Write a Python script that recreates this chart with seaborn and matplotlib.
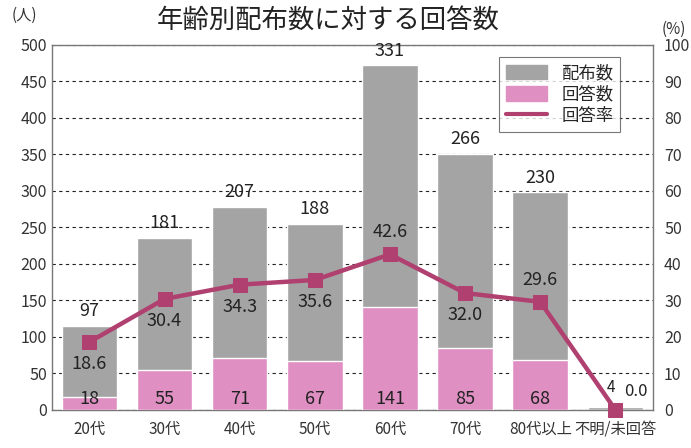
import numpy as np
import matplotlib
matplotlib.use("Agg")
import matplotlib.pyplot as plt
import seaborn as sns
from matplotlib.patches import Patch
from matplotlib.lines import Line2D

categories = ["20代", "30代", "40代", "50代", "60代", "70代", "80代以上", "不明/未回答"]
distributed = [97, 181, 207, 188, 331, 266, 230, 4]
responses = [18, 55, 71, 67, 141, 85, 68, 0]
rate = [18.6, 30.4, 34.3, 35.6, 42.6, 32.0, 29.6, 0.0]
# which side of the marker the rate label goes (1 = above, -1 = below, 0 = right)
rate_side = [-1, -1, -1, -1, 1, -1, 1, 0]

gray = "#a4a4a4"
pink = "#df8fc2"
line_c = "#b0406f"

sns.set_style("white")
plt.rcParams["font.family"] = ["Noto Sans CJK JP", "DejaVu Sans"]

fig = plt.figure(figsize=(6.91, 4.48), dpi=100)
ax = fig.add_axes([0.075, 0.085, 0.87, 0.815])

# gray bar stacked on top of the responses (as in the original chart)
totals = [d + r for d, r in zip(distributed, responses)]
sns.barplot(x=categories, y=totals, color=gray, width=0.74, saturation=1, ax=ax, zorder=2)
sns.barplot(x=categories, y=responses, color=pink, width=0.74, saturation=1, ax=ax, zorder=3)

ax.set_ylim(0, 500)
ax.set_xlim(-0.5, len(categories) - 0.5)
ax.set_yticks(np.arange(0, 501, 50))
ax.yaxis.grid(True, linestyle=(0, (3, 3)), color="#222222", linewidth=0.8, zorder=0)
ax.set_axisbelow(True)
ax.set_xlabel("")
ax.set_ylabel("")
ax.tick_params(axis="both", labelsize=11.5, colors="#333333", length=0)
ax.set_xticks(np.arange(len(categories)))
ax.set_xticklabels(categories, fontsize=11)
ax.tick_params(axis="x", pad=8)
ax.set_xticks(np.arange(0.5, len(categories) - 0.5), minor=True)
ax.tick_params(axis="x", which="minor", direction="in", length=5, color="#555555")
for s in ax.spines.values():
    s.set_color("#777777")
    s.set_linewidth(1)

ax2 = ax.twinx()
sns.lineplot(x=np.arange(len(categories)), y=rate, color=line_c, linewidth=3.2,
             marker="s", markersize=10, markeredgecolor=line_c, ax=ax2, zorder=6, clip_on=False)
ax2.set_ylim(0, 100)
ax2.set_xlim(-0.5, len(categories) - 0.5)
ax2.set_yticks(np.arange(0, 101, 10))
ax2.tick_params(axis="y", labelsize=11.5, colors="#333333", length=0, pad=8)
ax2.set_ylabel("")
for s in ax2.spines.values():
    s.set_visible(False)

for i, (d, t, r) in enumerate(zip(distributed, totals, responses)):
    if i < len(categories) - 1:
        ax.annotate(str(d), (i, t), xytext=(0, 4), textcoords="offset points",
                    ha="center", va="bottom", fontsize=13, color="#222222", zorder=5,
                    annotation_clip=False)
        ax.text(i, 15, str(r), ha="center", va="center", fontsize=13, color="#222222", zorder=5)
    else:
        # small count for the last group, placed above its marker
        ax2.annotate(str(d), (i, 0), xytext=(-3, 16), textcoords="offset points",
                     ha="center", va="center", fontsize=11, color="#222222", zorder=8)

for i, (v, side) in enumerate(zip(rate, rate_side)):
    if side == 0:
        ax2.annotate(f"{v:.1f}", (i, v), xytext=(6, 13), textcoords="offset points",
                     ha="left", va="center", fontsize=12, color="#222222", zorder=8)
    else:
        ax2.annotate(f"{v:.1f}", (i, v), xytext=(0, 16 * side), textcoords="offset points",
                     ha="center", va="center", fontsize=13, color="#222222", zorder=7)

fig.text(0.475, 0.955, "年齢別配布数に対する回答数", ha="center", va="center",
         fontsize=19, color="#222222")
fig.text(0.035, 0.965, "(人)", ha="center", va="center", fontsize=11, color="#333333")
fig.text(0.975, 0.935, "(%)", ha="center", va="center", fontsize=11, color="#333333")

handles = [Patch(color=gray, label="配布数"), Patch(color=pink, label="回答数"),
           Line2D([0], [0], color=line_c, linewidth=3, label="回答率")]
leg = ax2.legend(handles=handles, loc="upper right", bbox_to_anchor=(0.96, 0.99),
                 fontsize=12.5, frameon=True, fancybox=False, edgecolor="#555555",
                 handlelength=2.4, handleheight=0.9, borderpad=0.4, labelspacing=0.2)
leg.get_frame().set_linewidth(0.8)

fig.savefig("out.png", dpi=100)
